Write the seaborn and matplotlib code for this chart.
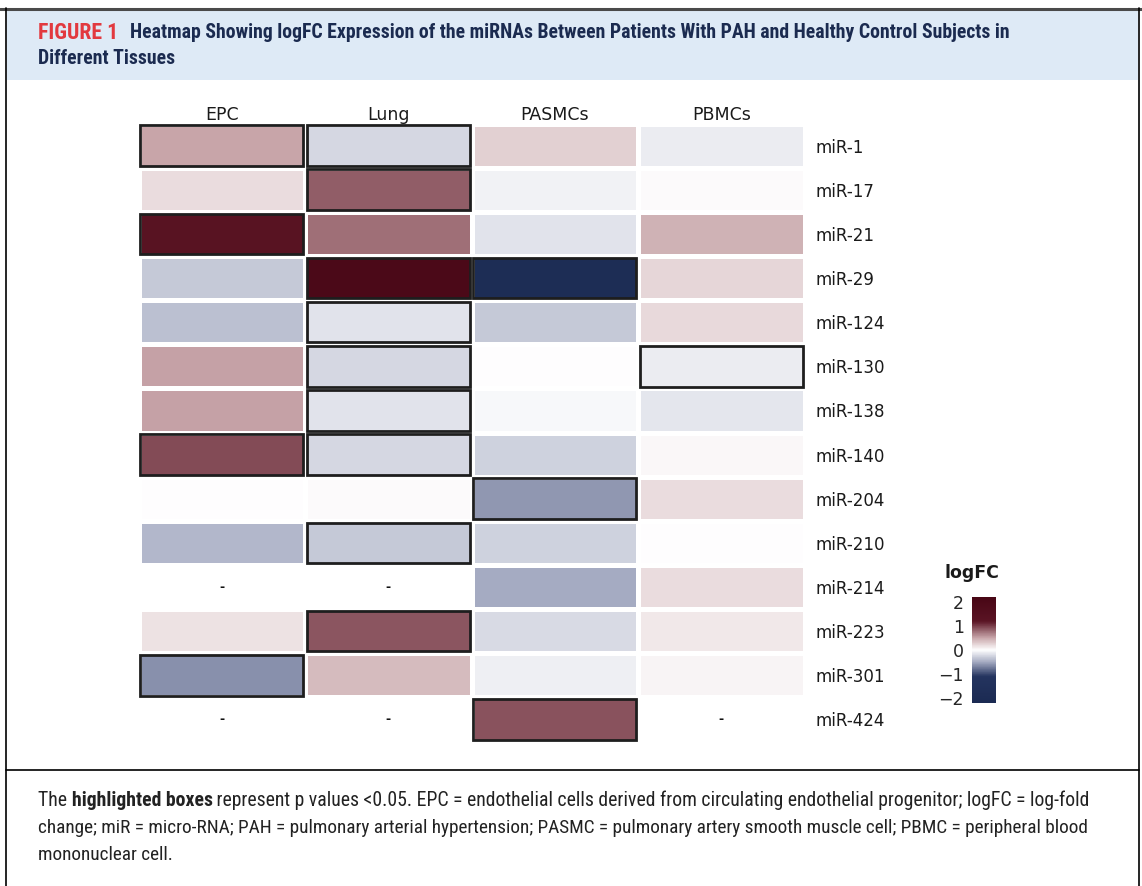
import matplotlib
matplotlib.use("Agg")
import matplotlib.pyplot as plt
import numpy as np
import pandas as pd
import seaborn as sns
from matplotlib.colors import LinearSegmentedColormap
from matplotlib.patches import Rectangle
from matplotlib.lines import Line2D

mirnas = ['miR-1', 'miR-17', 'miR-21', 'miR-29', 'miR-124', 'miR-130', 'miR-138',
          'miR-140', 'miR-204', 'miR-210', 'miR-214', 'miR-223', 'miR-301', 'miR-424']
tissues = ['EPC', 'Lung', 'PASMCs', 'PBMCs']

epc = [0.50, 0.20, 1.30, -0.32, -0.37, 0.52, 0.52, 0.93, 0.00, -0.42, np.nan, 0.17, -0.62, np.nan]
lung = [-0.23, 0.85, 0.76, 2.00, -0.16, -0.23, -0.17, -0.23, 0.03, -0.32, np.nan, 0.88, 0.39, np.nan]
pasmcs = [0.26, -0.08, -0.17, -1.90, -0.32, 0.01, -0.04, -0.26, -0.60, -0.27, -0.49, -0.22, -0.09, 0.90]
pbmcs = [-0.12, 0.02, 0.43, 0.24, 0.22, -0.12, -0.15, 0.05, 0.19, 0.01, 0.20, 0.13, 0.06, np.nan]

# p < 0.05 -> highlighted boxes
significant = [('miR-1', 'EPC'), ('miR-1', 'Lung'), ('miR-17', 'Lung'), ('miR-21', 'EPC'),
               ('miR-29', 'Lung'), ('miR-29', 'PASMCs'), ('miR-124', 'Lung'),
               ('miR-130', 'Lung'), ('miR-130', 'PBMCs'), ('miR-138', 'Lung'),
               ('miR-140', 'EPC'), ('miR-140', 'Lung'), ('miR-204', 'PASMCs'),
               ('miR-210', 'Lung'), ('miR-223', 'Lung'), ('miR-301', 'EPC'),
               ('miR-424', 'PASMCs')]

cbar_ticks = [-2, -1, 0, 1, 2]

title = ("Heatmap Showing logFC Expression of the miRNAs Between Patients With PAH and "
         "Healthy Control Subjects in")
title2 = "Different Tissues"
caption1 = (" represent p values <0.05. EPC = endothelial cells derived from circulating "
            "endothelial progenitor; logFC = log-fold")
caption2 = ("change; miR = micro-RNA; PAH = pulmonary arterial hypertension; PASMC = pulmonary "
            "artery smooth muscle cell; PBMC = peripheral blood")
caption3 = "mononuclear cell."

df = pd.DataFrame({'EPC': epc, 'Lung': lung, 'PASMCs': pasmcs, 'PBMCs': pbmcs}, index=mirnas)

sns.set_theme(style='white')
plt.rcParams['font.family'] = ['DejaVu Sans']

W, H = 1142, 886
fig = plt.figure(figsize=(W / 100, H / 100), dpi=100)
renderer = fig.canvas.get_renderer()


def fx(x):
    return x / W


def fy(y):
    return 1 - y / H


narrow = ['Roboto Condensed', 'Roboto', 'DejaVu Sans']


def fitted(x0, y0, s, width_px, **kw):
    # place a text and shrink its size so it spans width_px pixels
    t = fig.text(fx(x0), fy(y0), s, family=narrow, fontsize=12, va='center', **kw)
    w = t.get_window_extent(renderer=renderer).width
    t.set_fontsize(12 * width_px / w)
    return t


# page frame + header band
fig.add_artist(Rectangle((fx(7), fy(80)), fx(1138) - fx(7), fy(10) - fy(80),
                         transform=fig.transFigure, color='#deeaf6', lw=0))
fig.add_artist(Line2D([0, 1], [fy(8.5), fy(8.5)], transform=fig.transFigure, color='#4a4a4a', lw=2.2))
for xp in (6, 1139):
    fig.add_artist(Line2D([fx(xp), fx(xp)], [fy(8), 0], transform=fig.transFigure, color='black', lw=1.2))
fig.add_artist(Line2D([fx(6), fx(1139)], [fy(770), fy(770)], transform=fig.transFigure,
                      color='black', lw=1.2))

fitted(38, 33, "FIGURE 1", 80, weight='bold', color='#e2393f')
t1 = fitted(130, 33, title, 880, weight='bold', color='#1b2b50')
fig.text(fx(38), fy(58), title2, family=narrow, weight='bold', color='#1b2b50',
         fontsize=t1.get_fontsize(), va='center')

# caption with bold run
x = 38
parts = [("The ", 'normal'), ("highlighted boxes", 'bold'), (caption1, 'normal')]
texts = []
for s, w in parts:
    t = fig.text(fx(x), fy(800), s, family=narrow, weight=w, color='#222222',
                 fontsize=12, va='center')
    texts.append(t)
    x += t.get_window_extent(renderer=renderer).width
scale = 1052 / (x - 38)
x = 38
for t in texts:
    t.set_fontsize(12 * scale)
    t.set_x(fx(x))
    x += t.get_window_extent(renderer=renderer).width
t2 = fitted(38, 828, caption2, 1053, color='#222222')
fig.text(fx(38), fy(855), caption3, family=narrow, color='#222222',
         fontsize=t2.get_fontsize(), va='center')

# heatmap
cmap = LinearSegmentedColormap.from_list('logfc', [
    (0.0, '#1b2a52'), ((-1.1 + 2.2) / 4.4, '#24345f'), ((-0.5 + 2.2) / 4.4, '#a4aac1'),
    (0.5, '#ffffff'), ((0.5 + 2.2) / 4.4, '#c9a7ab'), ((1.2 + 2.2) / 4.4, '#5a1424'),
    (1.0, '#480615')])

ax = fig.add_axes([fx(138.5), fy(741.5), fx(804.5) - fx(138.5), fy(123.5) - fy(741.5)])
cax = fig.add_axes([fx(972), fy(703), fx(996) - fx(972), fy(597) - fy(703)])

sns.heatmap(df, ax=ax, cbar_ax=cax, cmap=cmap, vmin=-2.2, vmax=2.2,
            linewidths=2.5, linecolor='white', cbar_kws={'ticks': cbar_ticks})

for mir, tis in significant:
    r = mirnas.index(mir)
    c = tissues.index(tis)
    ax.add_patch(Rectangle((c + 0.01, r + 0.04), 0.98, 0.92, fill=False,
                           ec='#1e1e1e', lw=2, zorder=5))

# dashes for missing values
for r, mir in enumerate(mirnas):
    for c, tis in enumerate(tissues):
        if np.isnan(df.loc[mir, tis]):
            ax.text(c + 0.5, r + 0.5, '-', ha='center', va='center', fontsize=9,
                    weight='bold', color='#111111')

ax.xaxis.tick_top()
ax.yaxis.tick_right()
ax.set_xlabel('')
ax.set_ylabel('')
ax.tick_params(axis='x', length=0, pad=0, labelsize=12.5, labelcolor='#1a1a1a')
ax.tick_params(axis='y', length=0, pad=8, labelsize=12, labelrotation=0, labelcolor='#1a1a1a')
for lab in ax.get_yticklabels():
    lab.set_ha('left')

cax.yaxis.set_ticks_position('both')
cax.tick_params(axis='y', which='both', direction='in', length=4, width=1, color='white',
                labelleft=True, labelright=False, labelsize=12.5, pad=6)
fig.text(fx(972), fy(573), 'logFC', weight='bold', fontsize=12.5, ha='center', va='center',
         color='#1a1a1a')

fig.savefig('out.png', dpi=100)
